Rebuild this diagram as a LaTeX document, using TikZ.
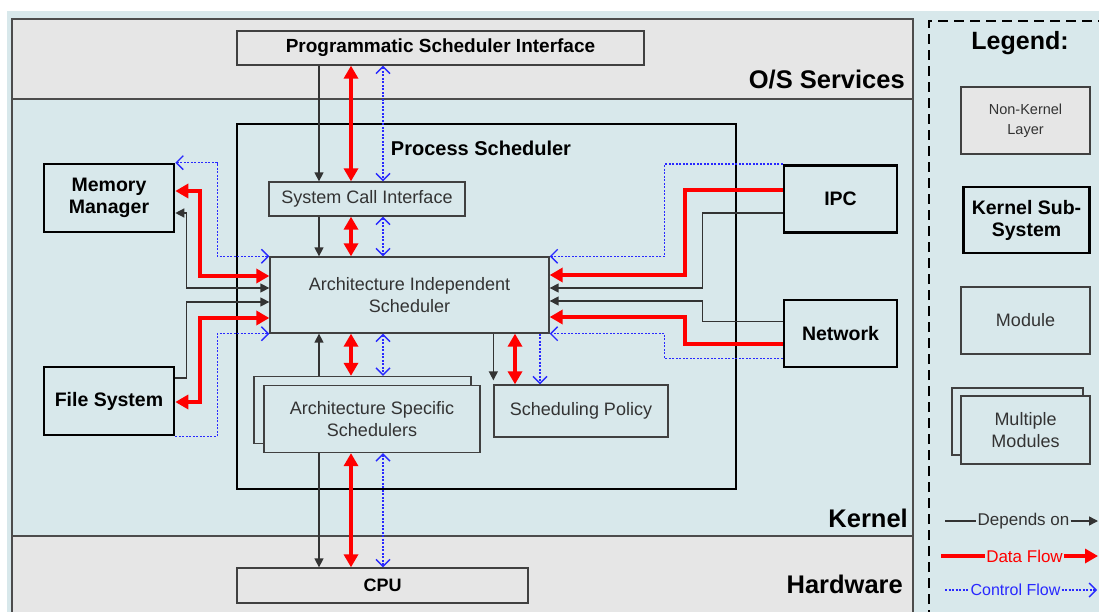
\documentclass[tikz,border=0pt]{standalone}
\usepackage{fontspec}
\setmainfont{Liberation Sans}
\usetikzlibrary{arrows.meta,calc}
\definecolor{kernelblue}{HTML}{D8E8EB}
\definecolor{layergrey}{HTML}{E6E6E6}
\definecolor{ctrlblue}{HTML}{2828FF}
\tikzset{
  module/.style={draw=black!75, line width=1.3pt, fill=kernelblue, text=black!80,
    inner sep=0pt, align=center, font=\fontsize{18}{22}\selectfont},
  layer box/.style={module, fill=layergrey, text=black,
    font=\bfseries\fontsize{19}{22}\selectfont},
  subsystem/.style={draw=black, line width=2.6pt, fill=kernelblue,
    inner sep=0pt, align=center, font=\bfseries\fontsize{19.5}{22}\selectfont},
  layer label/.style={anchor=east, inner sep=0pt,
    font=\bfseries\fontsize{25.5}{30}\selectfont},
  dep/.style={draw=black!80, line width=1.4pt,
    >={Triangle[length=9pt,width=9pt]}, ->},
  data/.style={draw=red, line width=4pt,
    >={Triangle[length=13pt,width=14pt]}, ->},
  ctrl/.style={draw=ctrlblue, line width=1.5pt, dash pattern=on 2pt off 1.5pt,
    >={Straight Barb[length=7pt,width=14pt,line width=1.4pt]}, ->},
}
\begin{document}
\begin{tikzpicture}[x=1pt,y=-1pt]
\useasboundingbox (0,0) rectangle (1099,612);
\clip (0,0) rectangle (1099,612);
% layers
\fill[kernelblue] (7,11) rectangle (1110,620);
\fill[layergrey] (12,19) rectangle (913,99);
\fill[layergrey] (12,536) rectangle (913,620);
\draw[black!70, line width=1.3pt] (12,19) rectangle (913,620);
\draw[black!70, line width=1.3pt] (12,99) -- (913,99) (12,536) -- (913,536);
\node[layer label] (oslabel) at (905,80) {O/S Services};
\node[layer label] (kernellabel) at (908,518) {Kernel};
\node[layer label] (hwlabel) at (903,584) {Hardware};

% process scheduler
\node[draw, line width=2.6pt, minimum width=499pt, minimum height=365pt,
  inner sep=0pt] (ps) at (486.5,306.5) {};
\node[font=\bfseries\fontsize{20}{24}\selectfont] (pslabel) at (481,148) {Process Scheduler};

\node[layer box, minimum width=407pt, minimum height=34pt] (psi) at (440.5,48) {Programmatic Scheduler Interface};
\node[module, minimum width=196pt, minimum height=34pt] (sci) at (367,199) {System Call Interface};
\node[module, minimum width=279pt, minimum height=76pt] (ais) at (409.5,295) {Architecture Independent\\Scheduler};
\node[module, minimum width=217pt, minimum height=67pt] (assback) at (362.5,410) {};
\node[module, minimum width=216pt, minimum height=67pt] (ass) at (372,419) {Architecture Specific\\Schedulers};
\node[module, minimum width=174pt, minimum height=52pt] (sp) at (581,411) {Scheduling Policy};
\node[layer box, font=\bfseries\fontsize{18}{22}\selectfont, minimum width=291pt,
  minimum height=35pt] (cpu) at (382.5,585.5) {CPU};

% kernel sub-systems
\node[subsystem, minimum width=130pt, minimum height=68pt] (mm) at (109,198) {Memory\\Manager};
\node[subsystem, minimum width=130pt, minimum height=68pt] (fs) at (109,401) {File System};
\node[subsystem, minimum width=113pt, minimum height=67pt] (ipc) at (840.5,199) {IPC};
\node[subsystem, minimum width=113pt, minimum height=67pt] (net) at (840.5,333.5) {Network};

% vertical flows
\coordinate (coldep) at (319,0);
\coordinate (coldata) at (351,0);
\coordinate (colctrl) at (383,0);
\coordinate (poldata) at (515,0);
\coordinate (polctrl) at (540,0);
\foreach \src/\dst in {psi/sci, sci/ais} {
  \draw[dep] (\src.south -| coldep) -- (\dst.north -| coldep);
  \draw[data,<->] (\src.south -| coldata) -- (\dst.north -| coldata);
  \draw[ctrl,<->] (\src.south -| colctrl) -- (\dst.north -| colctrl);
}
\draw[dep] (assback.north -| coldep) -- (ais.south -| coldep);
\draw[data,<->] (ais.south -| coldata) -- (assback.north -| coldata);
\draw[ctrl,<->] (ais.south -| colctrl) -- (assback.north -| colctrl);
\draw[dep] (ass.south -| coldep) -- (cpu.north -| coldep);
\draw[data,<->] (ass.south -| coldata) -- (cpu.north -| coldata);
\draw[ctrl,<->] (ass.south -| colctrl) -- (cpu.north -| colctrl);
\draw[dep] (ais.south -| sp.west) -- ($(sp.north west)+(0,-4)$);
\draw[data,<->] (ais.south -| poldata) -- (sp.north -| poldata);
\draw[ctrl] (ais.south -| polctrl) -- (sp.north -| polctrl);

% left side
\draw[ctrl,<->] (mm.north east) -- ++(42,0) |- (ais.north west);
\draw[data,<->] ($(mm.east)+(0,-7)$) -- ++(25,0) |- ($(ais.west)+(0,-19)$);
\draw[dep,<->] ($(mm.east)+(0,15)$) -- ++(11,0) |- ($(ais.west)+(0,-7)$);
\draw[dep] ($(fs.east)+(0,-23)$) -- ++(11,0) |- ($(ais.west)+(0,7)$);
\draw[data,<->] ($(fs.east)+(0,1)$) -- ++(25,0) |- ($(ais.west)+(0,23)$);
\draw[ctrl] (fs.south east) -- ++(42,0) |- (ais.south west);

% right side
\draw[ctrl] (ipc.north west) -- ++(-118,0) |- (ais.north east);
\draw[data] ($(ipc.west)+(0,-9)$) -- ++(-98,0) |- ($(ais.east)+(0,-20)$);
\draw[dep] ($(ipc.west)+(0,14)$) -- ++(-80,0) |- ($(ais.east)+(0,-7)$);
\draw[dep] ($(net.west)+(0,-12)$) -- ++(-80,0) |- ($(ais.east)+(0,6)$);
\draw[data] ($(net.west)+(0,10)$) -- ++(-98,0) |- ($(ais.east)+(0,22)$);
\draw[ctrl] ($(net.west)+(0,25)$) -- ++(-118,0) |- (ais.south east);

% legend
\draw[black, line width=2.5pt, dash pattern=on 10pt off 6pt] (929,620) |- (1110,21);
\node[font=\bfseries\fontsize{25}{30}\selectfont] (legtitle) at (1020,43) {Legend:};
\node[module, fill=layergrey, font=\fontsize{14.5}{20}\selectfont, minimum width=129pt,
  minimum height=67pt] (leglayer) at (1025.5,120.5) {Non-Kernel\\Layer};
\node[subsystem, minimum width=126pt, minimum height=66pt] (legsub) at (1026.5,220) {Kernel Sub-\\System};
\node[module, minimum width=129pt, minimum height=67pt] (legmod) at (1025.5,320.5) {Module};
\node[module, minimum width=131pt, minimum height=67pt] (legmultiback) at (1017.5,421.5) {};
\node[module, minimum width=129pt, minimum height=68pt] (legmulti) at (1025.5,430) {Multiple\\Modules};

\node[inner sep=1pt, text=black!80, font=\fontsize{17}{20}\selectfont] (legdeptext) at (1023.5,521) {Depends on};
\node[inner sep=1pt, text=red, font=\fontsize{17}{20}\selectfont] (legdatatext) at (1024.5,556) {Data Flow};
\node[inner sep=1pt, text=ctrlblue, font=\fontsize{16}{20}\selectfont] (legctrltext) at (1015.5,590) {Control Flow};
\coordinate (legdepstart) at (945,521);
\coordinate (legdepend) at (1098,521);
\coordinate (legdatastart) at (941,556);
\coordinate (legdataend) at (1098,556);
\coordinate (legctrlstart) at (945,590);
\coordinate (legctrlend) at (1097,590);
\draw[dep,-] (legdepstart) -- (legdeptext.west);
\draw[dep] (legdeptext.east) -- (legdepend);
\draw[data,-] (legdatastart) -- (legdatatext.west);
\draw[data] (legdatatext.east) -- (legdataend);
\draw[ctrl,-] (legctrlstart) -- (legctrltext.west);
\draw[ctrl] (legctrltext.east) -- (legctrlend);
\end{tikzpicture}
\end{document}
